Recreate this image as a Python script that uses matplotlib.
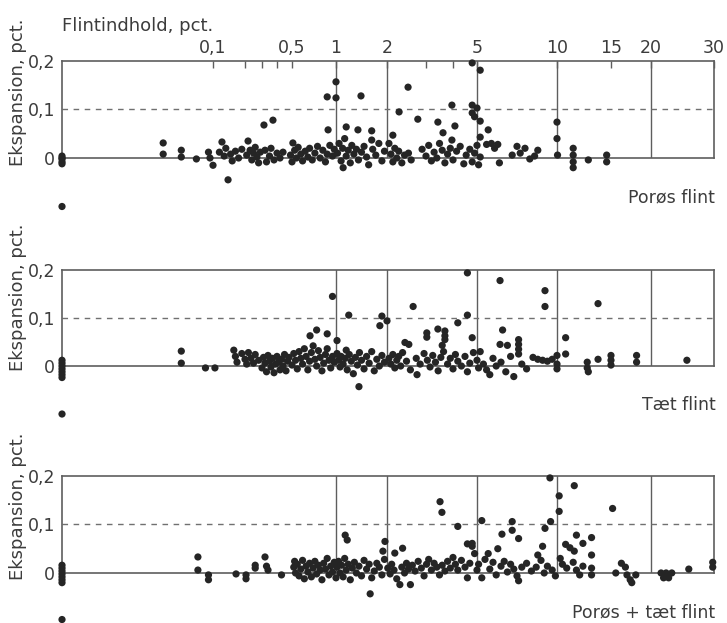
import numpy as np
import matplotlib
matplotlib.use("Agg")
import matplotlib.pyplot as plt

# flint content (pct.) vs expansion (pct.)
poros = [
    (0, 0.004), (0, -0.002), (0, -0.008), (0, 0.0), (0, -0.012), (0, -0.1),
    (0.067, 0.031), (0.067, 0.008), (0.079, 0.016), (0.079, 0.002), (0.089, -0.002),
    (0.097, 0.012), (0.098, 0.0), (0.100, -0.015),
    (0.128, 0.033), (0.147, -0.045), (0.120, 0.012), (0.135, 0.004), (0.140, 0.02),
    (0.155, 0.008), (0.160, -0.006), (0.170, 0.014), (0.180, 0.0), (0.190, 0.018),
    (0.218, 0.035), (0.210, 0.006), (0.230, 0.016), (0.240, -0.004), (0.250, 0.01),
    (0.260, 0.022), (0.270, 0.002), (0.280, -0.01), (0.290, 0.012),
    (0.313, 0.068), (0.373, 0.078),
    (0.320, 0.016), (0.330, -0.008), (0.350, 0.004), (0.360, 0.02), (0.380, -0.004),
    (0.400, 0.01), (0.420, 0.0), (0.440, 0.012),
    (0.510, 0.031), (0.490, 0.006), (0.500, -0.008), (0.530, 0.016), (0.550, 0.0),
    (0.570, 0.022), (0.600, 0.008), (0.620, -0.006), (0.650, 0.014), (0.680, 0.002),
    (0.700, 0.02), (0.730, -0.004), (0.760, 0.01), (0.790, 0.024), (0.820, 0.0),
    (0.850, 0.016), (0.880, -0.008), (0.900, 0.008), (0.930, 0.026), (0.960, 0.004),
    (0.980, 0.018),
    (0.90, 0.126), (1.00, 0.157), (1.00, 0.124), (0.91, 0.058), (1.20, 0.064), (1.14, -0.02),
    (1.03, 0.01), (1.06, 0.03), (1.10, -0.006), (1.13, 0.02), (1.17, 0.04), (1.20, 0.004),
    (1.24, 0.016), (1.28, -0.01), (1.31, 0.026), (1.35, 0.008), (1.40, 0.018), (1.44, -0.004),
    (1.49, 0.128), (1.43, 0.058), (1.50, 0.012), (1.55, 0.024), (1.60, 0.002), (1.64, -0.014),
    (1.70, 0.056), (1.70, 0.037), (1.72, 0.018), (1.78, 0.006), (1.84, 0.03), (1.90, -0.006),
    (1.95, 0.014),
    (2.54, 0.146), (2.31, 0.095), (2.79, 0.08), (3.44, 0.074), (3.96, 0.109), (4.08, 0.066),
    (3.63, 0.052), (3.96, 0.037),
    (2.05, 0.03), (2.10, 0.008), (2.15, -0.008), (2.15, 0.047), (2.20, 0.02), (2.25, 0.0),
    (2.30, 0.014), (2.38, -0.01), (2.45, 0.006), (2.55, 0.01), (2.62, -0.004),
    (2.90, 0.018), (3.00, 0.004), (3.10, 0.026), (3.20, -0.006), (3.30, 0.012), (3.40, 0.0),
    (3.50, 0.03), (3.60, 0.016), (3.70, -0.01), (3.80, 0.008), (3.90, 0.02), (4.00, -0.004),
    (4.15, 0.014), (4.30, 0.024), (4.45, -0.012), (4.55, 0.006), (4.70, 0.018), (4.80, -0.008),
    (4.90, 0.01), (5.00, 0.026), (5.10, -0.014), (5.20, 0.002),
    (4.80, 0.196), (5.20, 0.181), (4.80, 0.109), (5.00, 0.103), (4.80, 0.093), (4.90, 0.085),
    (5.20, 0.076), (5.20, 0.043), (5.70, 0.058),
    (5.60, 0.028), (5.90, 0.03), (6.10, 0.02), (6.30, 0.028), (6.40, -0.01),
    (7.20, 0.006), (7.50, 0.024), (7.70, 0.01), (8.00, 0.02), (8.30, -0.002), (8.60, 0.004),
    (8.80, 0.016),
    (10.0, 0.074), (10.0, 0.04), (10.05, 0.006), (11.5, 0.02), (11.5, 0.006), (11.5, -0.008),
    (11.5, -0.02), (12.9, -0.004), (14.6, 0.006), (14.6, -0.008),
]

taet = [
    (0, 0.012), (0, 0.006), (0, 0.0), (0, -0.006), (0, -0.012), (0, -0.018), (0, -0.024), (0, -0.1),
    (0.079, 0.031), (0.079, 0.006), (0.095, -0.004), (0.106, -0.004),
    (0.165, 0.033), (0.17, 0.02), (0.175, 0.008), (0.19, 0.026), (0.2, 0.014), (0.21, 0.004),
    (0.22, 0.028), (0.235, 0.016), (0.25, 0.006), (0.26, 0.024), (0.28, 0.012), (0.3, -0.004),
    (0.31, 0.018), (0.32, 0.006), (0.33, -0.012), (0.34, 0.022), (0.35, 0.01), (0.36, -0.002),
    (0.37, 0.016), (0.38, -0.014), (0.39, 0.004), (0.4, 0.02), (0.41, 0.008), (0.42, -0.008),
    (0.43, 0.014), (0.44, 0.0), (0.45, 0.024), (0.46, -0.01), (0.47, 0.01), (0.48, 0.018),
    (0.5, 0.002), (0.52, 0.026), (0.54, 0.012), (0.56, -0.006), (0.58, 0.03), (0.6, 0.016),
    (0.62, 0.004), (0.64, 0.036), (0.66, 0.02), (0.68, -0.008), (0.7, 0.01), (0.72, 0.028),
    (0.74, 0.042), (0.76, 0.014), (0.78, 0.0), (0.8, 0.032), (0.82, 0.018), (0.84, -0.01),
    (0.86, 0.006), (0.88, 0.024), (0.9, 0.036), (0.92, 0.012), (0.94, -0.004), (0.96, 0.02),
    (0.98, 0.008),
    (0.705, 0.063), (0.78, 0.075), (0.9, 0.067), (0.96, 0.145), (1.25, 0.106), (1.45, -0.043),
    (1.02, 0.053), (1.2, 0.033),
    (1.02, 0.026), (1.05, 0.012), (1.08, -0.002), (1.1, 0.02), (1.14, 0.004), (1.18, 0.016),
    (1.22, -0.008), (1.26, 0.024), (1.3, 0.01), (1.34, -0.016), (1.38, 0.018), (1.42, 0.002),
    (1.46, 0.028), (1.5, 0.012), (1.55, -0.006), (1.6, 0.02), (1.65, 0.006), (1.7, 0.03),
    (1.75, -0.01), (1.8, 0.014), (1.85, 0.0), (1.9, 0.022), (1.95, 0.008),
    (1.9, 0.104), (2.0, 0.094), (1.86, 0.084), (2.67, 0.124), (2.46, 0.049), (2.56, 0.045),
    (3.03, 0.069), (3.03, 0.06), (3.44, 0.077), (3.7, 0.073), (3.7, 0.063), (3.7, 0.055),
    (4.2, 0.09), (4.6, 0.106), (4.6, 0.194), (4.8, 0.059), (3.6, 0.043),
    (2.05, 0.016), (2.1, 0.004), (2.15, 0.024), (2.2, -0.004), (2.25, 0.012), (2.3, 0.02),
    (2.35, 0.0), (2.4, 0.028), (2.5, 0.01), (2.6, -0.008), (2.77, -0.018), (2.75, 0.016),
    (2.85, 0.004), (2.95, 0.026), (3.05, 0.012), (3.15, -0.002), (3.25, 0.022), (3.35, 0.008),
    (3.45, -0.01), (3.55, 0.018), (3.65, 0.03), (3.8, 0.004), (3.9, 0.016), (4.0, -0.006),
    (4.1, 0.024), (4.2, 0.01), (4.35, 0.0), (4.5, 0.02), (4.6, -0.012), (4.7, 0.006),
    (4.85, 0.028), (5.0, 0.012), (5.1, -0.004),
    (5.2, 0.03), (5.4, 0.004), (5.6, -0.008), (5.8, -0.018), (6.0, 0.016), (6.2, 0.0),
    (6.44, 0.178), (6.6, 0.075), (6.44, 0.045), (6.9, 0.043), (6.5, 0.008), (6.8, -0.012),
    (7.1, 0.02), (7.3, -0.022), (7.6, 0.055), (7.6, 0.045), (7.6, 0.035), (7.6, 0.025),
    (7.8, 0.004), (8.1, -0.006), (8.5, 0.018), (8.8, 0.014), (9.1, 0.012), (9.25, 0.157),
    (9.25, 0.124), (9.4, 0.01), (9.7, 0.014), (10.0, 0.022), (10.0, -0.006), (10.0, 0.004),
    (10.8, 0.059), (10.8, 0.025),
    (12.8, 0.008), (12.8, -0.004), (12.9, -0.012), (13.8, 0.13), (13.8, 0.014),
    (15.0, 0.022), (15.0, 0.012), (15.0, 0.002), (18.2, 0.022), (18.2, 0.008), (25.7, 0.012),
]

begge = [
    (0, 0.016), (0, 0.01), (0, 0.004), (0, -0.002), (0, -0.008), (0, -0.014), (0, -0.02), (0, -0.096),
    (0.09, 0.033), (0.09, 0.006), (0.097, -0.004), (0.097, -0.014), (0.172, -0.002),
    (0.206, -0.004), (0.206, -0.012), (0.26, 0.01), (0.26, 0.016), (0.32, 0.033),
    (0.33, 0.014), (0.34, 0.006), (0.43, -0.004), (0.53, 0.024),
    (0.52, 0.012), (0.54, 0.0), (0.56, 0.018), (0.58, -0.006), (0.6, 0.008), (0.62, 0.026),
    (0.64, -0.012), (0.66, 0.014), (0.68, 0.002), (0.7, 0.02), (0.72, -0.008), (0.74, 0.01),
    (0.76, 0.024), (0.78, -0.002), (0.8, 0.016), (0.82, 0.006), (0.84, -0.014), (0.86, 0.02),
    (0.88, 0.008), (0.9, 0.03), (0.92, -0.004), (0.94, 0.014), (0.96, 0.002), (0.98, 0.022),
    (1.0, -0.01),
    (1.18, 0.078), (1.22, 0.068), (1.67, -0.043), (1.96, 0.065), (1.92, 0.045), (2.2, 0.041),
    (2.4, 0.051),
    (1.02, 0.012), (1.05, 0.024), (1.08, 0.0), (1.11, 0.016), (1.14, -0.008), (1.17, 0.03),
    (1.2, 0.006), (1.24, 0.018), (1.28, -0.014), (1.32, 0.01), (1.36, 0.022), (1.4, 0.0),
    (1.45, 0.014), (1.5, -0.006), (1.55, 0.026), (1.6, 0.008), (1.65, 0.018), (1.7, -0.01),
    (1.75, 0.004), (1.8, 0.02), (1.85, 0.012), (1.9, -0.004), (1.95, 0.028),
    (2.02, 0.01), (2.08, -0.002), (2.12, 0.018), (2.18, 0.006), (2.25, -0.012), (2.33, -0.024),
    (2.38, 0.012), (2.45, 0.0), (2.5, 0.02), (2.55, 0.008), (2.6, -0.024), (2.65, 0.016),
    (2.72, 0.004), (2.8, 0.024), (2.88, 0.01), (2.95, -0.006), (3.02, 0.018), (3.1, 0.028),
    (3.2, 0.006), (3.3, 0.02), (3.4, 0.012), (3.5, -0.004), (3.6, 0.016), (3.7, 0.004),
    (3.8, 0.024), (3.9, 0.01), (4.0, 0.032), (4.1, 0.018), (4.2, 0.006), (4.35, 0.026),
    (4.5, 0.012), (4.6, -0.01), (4.6, 0.06), (4.8, 0.055), (4.7, 0.02), (4.9, 0.04), (5.0, 0.006),
    (3.52, 0.147), (3.59, 0.125), (4.2, 0.096), (4.8, 0.061), (5.3, 0.108), (6.56, 0.08),
    (7.2, 0.106), (7.2, 0.088), (7.6, 0.071), (9.25, 0.092), (9.56, 0.196), (9.6, 0.106),
    (10.2, 0.159), (10.2, 0.127), (11.6, 0.18), (11.8, 0.078), (12.4, 0.061), (13.2, 0.073),
    (15.2, 0.133),
    (5.1, 0.018), (5.3, -0.01), (5.5, 0.028), (5.7, 0.04), (5.8, 0.008), (6.0, 0.022),
    (6.3, 0.05), (6.2, -0.004), (6.5, 0.014), (6.7, 0.024), (6.9, 0.002), (7.1, 0.018),
    (7.3, 0.008), (7.5, -0.006), (7.6, -0.016), (7.8, 0.012), (8.1, 0.02), (8.4, 0.004),
    (8.8, 0.037), (8.7, 0.012), (9.0, 0.026), (9.1, 0.055), (9.2, 0.0), (9.4, 0.014),
    (9.7, 0.006), (9.9, -0.006),
    (10.3, 0.03), (10.5, 0.018), (10.8, 0.059), (11.2, 0.052), (11.6, 0.045), (10.9, 0.01),
    (11.5, 0.022), (11.8, 0.006), (12.1, -0.004), (12.4, 0.014), (13.2, 0.037), (13.2, 0.01),
    (13.2, -0.004),
    (15.6, 0.0), (16.3, 0.02), (16.8, 0.012), (17.0, -0.004), (17.4, -0.014), (17.6, -0.02),
    (18.1, -0.004),
    (21.6, 0.0), (22.0, -0.01), (22.4, 0.0), (22.8, -0.01), (23.3, 0.0), (26.0, 0.008),
    (29.8, 0.022), (29.8, 0.012),
]

panel_names = ["Porøs flint", "Tæt flint", "Porøs + tæt flint"]
tick_vals = [0.1, 0.5, 1, 2, 5, 10, 15, 20, 30]
tick_labels = ["0,1", "0,5", "1", "2", "5", "10", "15", "20", "30"]
minor_vals = [0.2, 0.3, 0.4, 3, 4]
grid_vals = [1, 2, 5, 10, 20]

# the printed flint axis is stretched unevenly, so map it piecewise
scale_vals = [0, 0.1, 0.2, 0.3, 0.4, 0.5, 1, 2, 3, 4, 5, 10, 15, 20, 30]
scale_pos = [0, 151, 183, 200, 215, 230, 274, 325, 364, 391, 415, 495, 549, 589, 652]


def fwd(x):
    return np.interp(x, scale_vals, scale_pos)


def inv(p):
    return np.interp(p, scale_pos, scale_vals)


ink = "#252525"
line_c = "#5e5e5e"
text_c = "#3c3c3c"
plt.rcParams["font.family"] = "DejaVu Sans"

fig = plt.figure(figsize=(7.27, 6.23), dpi=100)

# (bottom, height) of each panel in figure fractions
boxes = [(0.7464, 0.1557), (0.4125, 0.1541), (0.0803, 0.1557)]
label_y = [1 - 92 / 623, 1 - 297 / 623, 1 - 506 / 623]
name_y = [1 - 197 / 623, 1 - 405 / 623, 1 - 612 / 623]

for i, data in enumerate([poros, taet, begge]):
    bottom, height = boxes[i]
    ax = fig.add_axes([0.0853, bottom, 0.8968, height])
    ax.set_xscale("function", functions=(fwd, inv))
    ax.set_xlim(0, 30)
    ax.set_ylim(0, 0.2)

    for s in ax.spines.values():
        s.set_color(line_c)
        s.set_linewidth(1.2)
    for v in grid_vals:
        ax.axvline(v, color=line_c, lw=1.0, zorder=1)
    ax.axhline(0.1, color="#707070", lw=1.0, ls=(0, (4, 4)), zorder=1)

    xs = [p[0] for p in data]
    ys = [p[1] for p in data]
    ax.scatter(xs, ys, s=27, color=ink, edgecolors="none", zorder=3, clip_on=False)

    ax.set_yticks([0, 0.1, 0.2])
    ax.set_yticklabels(["0", "0,1", "0,2"])
    ax.tick_params(axis="y", length=0, pad=5, labelsize=12.5, labelcolor=text_c)

    if i == 0:
        ax.xaxis.set_ticks_position("top")
        ax.set_xticks(tick_vals)
        ax.set_xticklabels(tick_labels)
        ax.set_xticks(minor_vals, minor=True)
        ax.tick_params(axis="x", which="both", direction="in", length=5, width=1,
                       color=line_c, top=True, bottom=False, labeltop=True,
                       labelbottom=False, labelsize=12.5, labelcolor=text_c, pad=3)
    else:
        ax.set_xticks([])
        ax.set_xticks([], minor=True)

    fig.text(0.025, label_y[i], "Ekspansion, pct.", rotation=90, ha="center",
             va="center", fontsize=13, color=text_c)
    fig.text(0.984, name_y[i], panel_names[i], ha="right", va="center",
             fontsize=12.5, color=text_c)

fig.text(0.0853, 1 - 26 / 623, "Flintindhold, pct.", ha="left", va="center",
         fontsize=13, color=text_c)

fig.savefig("out.png", dpi=100, facecolor="white")
